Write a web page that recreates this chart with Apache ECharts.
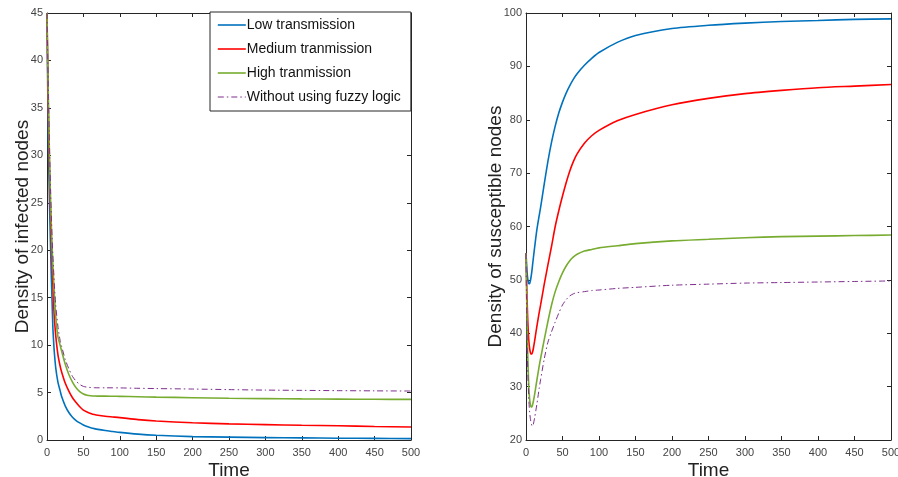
<!DOCTYPE html>
<html>
<head>
<meta charset="utf-8">
<script src="https://cdn.jsdelivr.net/npm/echarts@6/dist/echarts.min.js"></script>
<style>html,body{margin:0;padding:0;background:#fff}#c{width:898px;height:477px}</style>
</head>
<body>
<div id="c"></div>
<script>
// Shared time samples
const time = [0,1,2,3,4,5,6,7,8,9,10,12,15,18,20,25,30,35,40,45,50,55,60,65,70,80,90,100,125,150,200,250,300,350,400,450,500];

const seriesNames = ['Low transmission','Medium tranmission','High tranmission','Without using fuzzy logic'];

// Density of infected nodes
const infLow  = [45,37,31,26.5,23,20,17,14.5,12,10.5,9.3,7.6,6.1,5.2,4.6,3.6,2.9,2.4,2.05,1.8,1.58,1.42,1.3,1.2,1.12,1.0,0.9,0.8,0.62,0.5,0.36,0.3,0.25,0.22,0.19,0.17,0.15];
const infMed  = [45,39,34,30,26.5,23.5,21,18.5,16.5,14.5,13,11,9,7.8,7.2,6,5.15,4.45,3.95,3.5,3.15,2.95,2.8,2.68,2.6,2.5,2.43,2.36,2.15,2.0,1.82,1.7,1.62,1.55,1.5,1.43,1.37];
const infHigh = [45,40,35.5,31.5,28,25,22.5,20.3,18.5,17,15.5,13,10.9,10.0,9.4,8.0,6.9,6.1,5.5,5.1,4.85,4.72,4.66,4.63,4.62,4.62,4.61,4.6,4.56,4.52,4.46,4.4,4.36,4.33,4.31,4.29,4.28];
const infNoFz = [45,40.5,36,32.5,29,26,23.5,21.3,19.5,18,16.5,14.2,12,10.5,9.9,8.5,7.5,6.7,6.2,5.85,5.65,5.57,5.53,5.51,5.5,5.5,5.5,5.49,5.45,5.42,5.37,5.31,5.26,5.23,5.2,5.18,5.16];

// Density of susceptible nodes
const susLow  = [55,52.5,50.6,49.7,49.3,49.3,49.8,50.6,51.6,52.8,54,56.3,59.5,62,63.6,68,72.2,75.8,78.8,81.3,83.3,85,86.4,87.6,88.6,90.2,91.5,92.6,94.5,95.8,97.1,97.7,98.1,98.4,98.6,98.8,98.9];
const susMed  = [55,49,44,40.6,38.4,37.1,36.4,36.1,36.1,36.5,37.1,38.7,41.4,43.8,45.3,49.2,52.8,56.3,60,63,65.7,68.2,70.4,72.2,73.6,75.6,77.0,78.0,79.8,81.0,82.8,84,84.9,85.5,86,86.3,86.6];
const susHigh = [55,46,38.5,33,29.6,27.6,26.6,26.2,26.2,26.6,27.2,28.7,31.3,33.8,35.3,38.8,42.2,45.3,47.8,49.7,51.3,52.6,53.6,54.3,54.8,55.4,55.7,56,56.4,56.8,57.3,57.6,57.9,58.1,58.2,58.3,58.4];
const susNoFz = [55,43,35.5,30.5,27.2,25.2,24,23.2,22.7,22.6,22.9,24.3,26.8,29.6,31.3,35.2,38.3,40.3,42.1,43.8,45.3,46.3,47,47.4,47.6,47.8,48,48.1,48.4,48.6,49,49.2,49.4,49.5,49.6,49.7,49.8];

const xTicks = {min:0, max:500, interval:50};
const yInf = {min:0, max:45, interval:5};
const ySus = {min:20, max:100, interval:10};

const colors = ['#0072BD','#FF0000','#77AC30','#7E2F8E'];
const dashDot = [6,3,1.5,3];
const pair = v => time.map((t,i)=>[t,v[i]]);
const FONT = 'Liberation Sans';
const axisCol = '#262626';

function xAx(gi, pos, showLabel, name){
  return {type:'value', gridIndex:gi, position:pos, min:xTicks.min, max:xTicks.max, interval:xTicks.interval,
    name: name||'', nameLocation:'middle', nameGap:21, nameMoveOverlap:false,
    nameTextStyle:{fontFamily:FONT,fontSize:19,color:'#222'},
    axisLine:{show:true, onZero:false, lineStyle:{color:axisCol,width:1}},
    axisTick:{show:true, inside:true, length:4, lineStyle:{color:axisCol}},
    axisLabel:{show:showLabel, fontFamily:FONT, fontSize:11, color:'#444', margin:7},
    splitLine:{show:false}};
}
function yAx(gi, pos, rng, showLabel, name, gap){
  return {type:'value', gridIndex:gi, position:pos, min:rng.min, max:rng.max, interval:rng.interval,
    name: name||'', nameLocation:'middle', nameGap:gap||20, nameRotate:90, nameMoveOverlap:false,
    nameTextStyle:{fontFamily:FONT,fontSize:19,color:'#222'},
    axisLine:{show:true, onZero:false, lineStyle:{color:axisCol,width:1}},
    axisTick:{show:true, inside:true, length:4, lineStyle:{color:axisCol}},
    axisLabel:{show:showLabel, fontFamily:FONT, fontSize:11, color:'#444', margin:4},
    splitLine:{show:false}};
}
function ser(i, data, xi, yi){
  const dash = i===3;
  return {type:'line', name: seriesNames[i], xAxisIndex:xi, yAxisIndex:yi, data:pair(data),
    showSymbol:false, symbol:'none', smooth:0.25, silent:true,
    color: colors[i],
    lineStyle:{color:colors[i], width: dash?1:1.6, type: dash?dashDot:'solid'},
    z: 3, animation:false};
}

const legendData = seriesNames.map((n,i)=>({
  name:n,
  itemStyle:{color:'rgba(0,0,0,0)', borderColor:'rgba(0,0,0,0)', borderWidth:0, opacity:0},
  lineStyle:{color:colors[i], width: i===3?1:1.6, type: i===3?dashDot:'solid', opacity:1}
}));

const chart = echarts.init(document.getElementById('c'), null, {renderer:'canvas'});
chart.setOption({
  animation:false,
  backgroundColor:'#fff',
  grid:[
    {left:47, top:13, width:364, height:427, containLabel:false, outerBoundsMode:'none'},
    {left:526, top:13, width:365, height:427, containLabel:false, outerBoundsMode:'none'}
  ],
  xAxis:[ xAx(0,'bottom',true,'Time'), xAx(0,'top',false), xAx(1,'bottom',true,'Time'), xAx(1,'top',false) ],
  yAxis:[ yAx(0,'left',yInf,true,'Density of infected nodes',15), yAx(0,'right',yInf,false),
          yAx(1,'left',ySus,true,'Density of susceptible nodes',21), yAx(1,'right',ySus,false) ],
  legend:{
    orient:'vertical', left:210, top:12,
    backgroundColor:'#fff', borderColor:'#262626', borderWidth:1,
    padding:[6,10,7,7], itemGap:10, itemWidth:28, itemHeight:14,
    textStyle:{fontFamily:FONT, fontSize:14, color:'#111', padding:[0,0,0,-4]},
    data: legendData, selectedMode:false, z:10
  },
  series:[
    ser(0, infLow, 0, 0), ser(1, infMed, 0, 0), ser(2, infHigh, 0, 0), ser(3, infNoFz, 0, 0),
    ser(0, susLow, 2, 2), ser(1, susMed, 2, 2), ser(2, susHigh, 2, 2), ser(3, susNoFz, 2, 2)
  ]
});
</script>
</body>
</html>
